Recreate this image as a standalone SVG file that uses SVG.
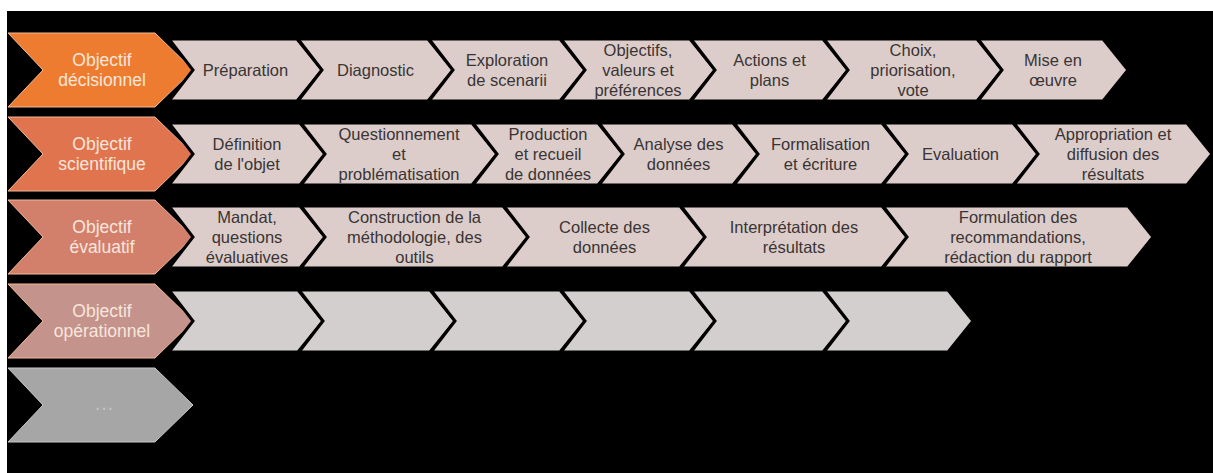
<svg xmlns="http://www.w3.org/2000/svg" width="1213" height="473" viewBox="0 0 1213 473">
<style>
.g{fill:#DCCDCB;stroke:#000;stroke-width:3;stroke-linejoin:miter}
.g4{fill:#D3CFCF;stroke:#000;stroke-width:3}
.o{stroke:#F2B894;stroke-width:1}
.t{font-family:"Liberation Sans",Arial,sans-serif;font-size:16.5px;fill:#3A3434;text-anchor:middle}
.w{font-family:"Liberation Sans",Arial,sans-serif;font-size:17.5px;fill:#F8E6DC;text-anchor:middle}
</style>
<rect x="0" y="0" width="1213" height="473" fill="#FFFFFF"/>
<rect x="7" y="11" width="1206" height="462" fill="#000000"/>

<!-- Row 1 -->
<g id="row1-head"><polygon class="o" fill="#EE7C30" points="8,33 155,33 193,70 155,107 8,107 43,70"/>
<text class="w"><tspan x="102" y="66">Objectif</tspan><tspan x="102" y="86">décisionnel</tspan></text></g>
<g id="preparation"><polygon class="g" points="169,39 297,39 322,70 297,101 169,101 193,70"/>
<text class="t"><tspan x="245.5" y="75.5">Préparation</tspan></text></g>
<g id="diagnostic"><polygon class="g" points="298,39 428,39 453,70 428,101 298,101 322,70"/>
<text class="t"><tspan x="375.5" y="75.5">Diagnostic</tspan></text></g>
<g id="exploration"><polygon class="g" points="429,39 560,39 585,70 560,101 429,101 453,70"/>
<text class="t"><tspan x="507" y="65.5">Exploration</tspan><tspan x="507" y="85.5">de scenarii</tspan></text></g>
<g id="objectifs"><polygon class="g" points="561,39 690,39 715,70 690,101 561,101 585,70"/>
<text class="t"><tspan x="638" y="55.5">Objectifs,</tspan><tspan x="638" y="75.5">valeurs et</tspan><tspan x="638" y="95.5">préférences</tspan></text></g>
<g id="actions"><polygon class="g" points="691,39 823,39 848,70 823,101 691,101 715,70"/>
<text class="t"><tspan x="769.5" y="65.5">Actions et</tspan><tspan x="769.5" y="85.5">plans</tspan></text></g>
<g id="choix"><polygon class="g" points="824,39 977,39 1002,70 977,101 824,101 848,70"/>
<text class="t"><tspan x="913" y="55.5">Choix,</tspan><tspan x="913" y="75.5">priorisation,</tspan><tspan x="913" y="95.5">vote</tspan></text></g>
<g id="mise-en-oeuvre"><polygon class="g" points="978,39 1103,39 1128,70 1103,101 978,101 1002,70"/>
<text class="t"><tspan x="1053" y="65.5">Mise en</tspan><tspan x="1053" y="85.5">œuvre</tspan></text></g>

<!-- Row 2 -->
<g id="row2-head"><polygon class="o" fill="#E0744F" points="8,117 155,117 193,154 155,191 8,191 43,154"/>
<text class="w"><tspan x="102" y="150">Objectif</tspan><tspan x="102" y="170">scientifique</tspan></text></g>
<g id="definition"><polygon class="g" points="169,123 300,123 325,154 300,185 169,185 193,154"/>
<text class="t"><tspan x="247" y="149.5">Définition</tspan><tspan x="247" y="169.5">de l'objet</tspan></text></g>
<g id="questionnement"><polygon class="g" points="301,123 472,123 497,154 472,185 301,185 325,154"/>
<text class="t"><tspan x="399" y="139.5">Questionnement</tspan><tspan x="399" y="159.5">et</tspan><tspan x="399" y="179.5">problématisation</tspan></text></g>
<g id="production"><polygon class="g" points="473,123 598,123 623,154 598,185 473,185 497,154"/>
<text class="t"><tspan x="548" y="139.5">Production</tspan><tspan x="548" y="159.5">et recueil</tspan><tspan x="548" y="179.5">de données</tspan></text></g>
<g id="analyse"><polygon class="g" points="599,123 733,123 758,154 733,185 599,185 623,154"/>
<text class="t"><tspan x="678.5" y="149.5">Analyse des</tspan><tspan x="678.5" y="169.5">données</tspan></text></g>
<g id="formalisation"><polygon class="g" points="734,123 882,123 907,154 882,185 734,185 758,154"/>
<text class="t"><tspan x="820.5" y="149.5">Formalisation</tspan><tspan x="820.5" y="169.5">et écriture</tspan></text></g>
<g id="evaluation"><polygon class="g" points="883,123 1013,123 1038,154 1013,185 883,185 907,154"/>
<text class="t"><tspan x="960.5" y="159.5">Evaluation</tspan></text></g>
<g id="appropriation"><polygon class="g" points="1014,123 1187,123 1212,154 1187,185 1014,185 1038,154"/>
<text class="t"><tspan x="1113" y="139.5">Appropriation et</tspan><tspan x="1113" y="159.5">diffusion des</tspan><tspan x="1113" y="179.5">résultats</tspan></text></g>

<!-- Row 3 -->
<g id="row3-head"><polygon class="o" fill="#D2806C" points="8,200 155,200 193,237 155,274 8,274 43,237"/>
<text class="w"><tspan x="102" y="233">Objectif</tspan><tspan x="102" y="253">évaluatif</tspan></text></g>
<g id="mandat"><polygon class="g" points="169,206 300,206 325,237 300,268 169,268 193,237"/>
<text class="t"><tspan x="247" y="222.5">Mandat,</tspan><tspan x="247" y="242.5">questions</tspan><tspan x="247" y="262.5">évaluatives</tspan></text></g>
<g id="construction"><polygon class="g" points="301,206 503,206 528,237 503,268 301,268 325,237"/>
<text class="t"><tspan x="414.5" y="222.5">Construction de la</tspan><tspan x="414.5" y="242.5">méthodologie, des</tspan><tspan x="414.5" y="262.5">outils</tspan></text></g>
<g id="collecte"><polygon class="g" points="504,206 680,206 705,237 680,268 504,268 528,237"/>
<text class="t"><tspan x="604.5" y="232.5">Collecte des</tspan><tspan x="604.5" y="252.5">données</tspan></text></g>
<g id="interpretation"><polygon class="g" points="681,206 882,206 907,237 882,268 681,268 705,237"/>
<text class="t"><tspan x="794" y="232.5">Interprétation des</tspan><tspan x="794" y="252.5">résultats</tspan></text></g>
<g id="formulation"><polygon class="g" points="883,206 1128,206 1153,237 1128,268 883,268 907,237"/>
<text class="t"><tspan x="1018" y="222.5">Formulation des</tspan><tspan x="1018" y="242.5">recommandations,</tspan><tspan x="1018" y="262.5">rédaction du rapport</tspan></text></g>

<!-- Row 4 -->
<g id="row4-head"><polygon class="o" fill="#C4938C" points="8,284 155,284 193,321 155,358 8,358 43,321"/>
<text class="w"><tspan x="102" y="317">Objectif</tspan><tspan x="102" y="337">opérationnel</tspan></text></g>
<g id="op1"><polygon class="g4" points="169,290 298,290 323,321 298,352 169,352 193,321"/></g>
<g id="op2"><polygon class="g4" points="299,290 430,290 455,321 430,352 299,352 323,321"/></g>
<g id="op3"><polygon class="g4" points="431,290 560,290 585,321 560,352 431,352 455,321"/></g>
<g id="op4"><polygon class="g4" points="561,290 690,290 715,321 690,352 561,352 585,321"/></g>
<g id="op5"><polygon class="g4" points="691,290 823,290 848,321 823,352 691,352 715,321"/></g>
<g id="op6"><polygon class="g4" points="824,290 948,290 973,321 948,352 824,352 848,321"/></g>

<!-- Row 5 -->
<g id="row5-head"><polygon fill="#A6A6A6" stroke="#C8C8C8" stroke-width="1" points="8,368 155,368 193,405 155,442 8,442 43,405"/>
<text class="w" style="font-size:20px;fill:#C4C4C4"><tspan x="104" y="410">…</tspan></text></g>
</svg>
